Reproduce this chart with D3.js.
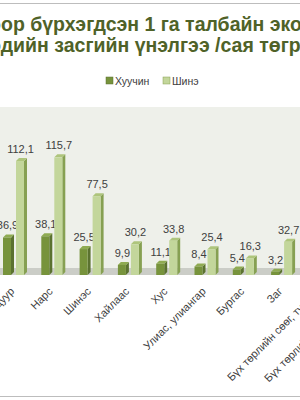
<!DOCTYPE html>
<html>
<head>
<meta charset="utf-8">
<script src="https://cdn.jsdelivr.net/npm/d3@7"></script>
<style>
  body { margin: 0; background: #fff; }
  svg { display: block; }
</style>
</head>
<body>
<svg width="300" height="400"></svg>
<script>
// chart data (the last two categories are outside the visible crop)
const categories = ["Гацуур", "Нарс", "Шинэс", "Хайлаас", "Хус", "Улиас, улиангар",
    "Бургас", "Заг", "Бүх төрлийн сөөг, түүний", "Бүх төрлийн мод, модлог"];
const oldValues = [36.9, 38.1, 25.5, 9.9, 11.1, 8.4, 5.4, 3.2, null, null];
const newValues = [112.1, 115.7, 77.5, 30.2, 33.8, 25.4, 16.3, 32.7, null, null];
const seriesNames = ["Хуучин", "Шинэ"];
const titleLines = ["Ойгоор бүрхэгдсэн 1 га талбайн экосистемийн",
    "үйлчилгээний эдийн засгийн үнэлгээ /сая төгрөг/"];
// how much of each title line falls off the left edge
const titleCut = ["Ойго", "үйлчилгээний э"];

const svg = d3.select("svg");
const font = "'Liberation Sans', Arial, sans-serif";

// chart frame
svg.append("rect")
    .attr("x", -5).attr("y", 3.5)
    .attr("width", 310).attr("height", 393)
    .attr("fill", "#fff")
    .attr("stroke", "#bdbdbd");

// title, cropped on the left like the original
titleLines.forEach((t, i) => {
    const probe = svg.append("text")
        .attr("font-family", font).attr("font-size", 19.5).attr("font-weight", "bold")
        .text(titleCut[i]);
    const cut = probe.node().getComputedTextLength();
    probe.remove();
    svg.append("text")
        .attr("x", 1 - cut)
        .attr("y", 31 + i * 21)
        .attr("font-family", font)
        .attr("font-size", 19.5)
        .attr("font-weight", "bold")
        .attr("fill", "#4f6228")
        .text(t);
});

// scales
const x = d3.scaleBand()
    .domain(categories)
    .range([-4.15, -4.15 + 38.3 * categories.length]);

const y = d3.scaleLinear()
    .domain([0, 120])
    .range([275, 153]);

const colors = [
    { front: "#77933c", side: "#5b7230", top: "#8fab52" },
    { front: "#c3d69b", side: "#86a052", top: "#aec57c" }
];

// legend
const legend = svg.append("g");
seriesNames.forEach((name, i) => {
    const lx = 106 + i * 57;
    legend.append("rect")
        .attr("x", lx).attr("y", 77)
        .attr("width", 7).attr("height", 7)
        .attr("fill", colors[i].front)
        .attr("stroke", colors[i].side).attr("stroke-width", 0.5);
    legend.append("text")
        .attr("x", lx + 9).attr("y", 84.5)
        .attr("font-family", font).attr("font-size", 10.5)
        .attr("fill", "#404040")
        .text(name);
});

// back wall and floor
svg.append("rect")
    .attr("x", 0).attr("y", 107)
    .attr("width", 300).attr("height", 162)
    .attr("fill", "#eef0ea");
svg.append("rect")
    .attr("x", 0).attr("y", 268)
    .attr("width", 300).attr("height", 7)
    .attr("fill", "#cbcdc7");

// 3D-ish columns
const depth = 3;
const barW = 8;
const fmt = v => String(v).replace(".", ",");

function drawSeries(values, s) {
    const offset = s === 0 ? -12 : 1;
    const g = svg.append("g");
    categories.forEach((c, i) => {
        const v = values[i];
        if (v == null) return;
        const x0 = x(c) + x.bandwidth() / 2 + offset;
        const x1 = x0 + barW;
        const yt = y(v), yb = y(0);
        g.append("polygon")
            .attr("points", [[x1, yt], [x1 + depth, yt - depth], [x1 + depth, yb - depth], [x1, yb]].join(" "))
            .attr("fill", colors[s].side);
        g.append("polygon")
            .attr("points", [[x0, yt], [x0 + depth, yt - depth], [x1 + depth, yt - depth], [x1, yt]].join(" "))
            .attr("fill", colors[s].top);
        g.append("rect")
            .attr("x", x0).attr("y", yt)
            .attr("width", barW).attr("height", yb - yt)
            .attr("fill", colors[s].front);
        g.append("text")
            .attr("x", x0 + barW / 2 + 0.5)
            .attr("y", yt - 8)
            .attr("text-anchor", "middle")
            .attr("font-family", font).attr("font-size", 11)
            .attr("fill", "#404040")
            .text(fmt(v));
    });
}
drawSeries(oldValues, 0);
drawSeries(newValues, 1);

// category labels, rotated
svg.append("g").selectAll("text")
    .data(categories)
    .join("text")
    .attr("transform", d => `translate(${x(d) + x.bandwidth() / 2},292) rotate(-45)`)
    .attr("text-anchor", "end")
    .attr("font-family", font)
    .attr("font-size", 11)
    .attr("fill", "#404040")
    .text(d => d);
</script>
</body>
</html>
